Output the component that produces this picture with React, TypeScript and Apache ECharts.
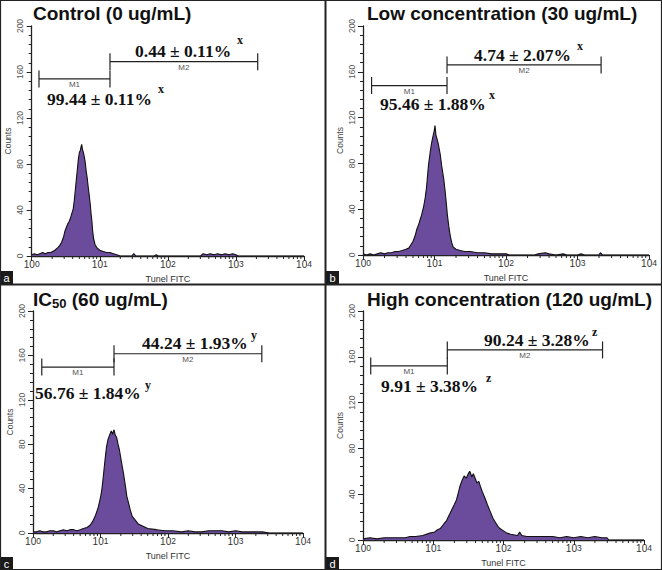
import React, { useEffect, useRef } from 'react';
import * as echarts from 'echarts';

// ---- data ----
const panelTitles = [
  'Control (0 ug/mL)',
  'Low concentration (30 ug/mL)',
  '{t|IC}{s|50}{t| (60 ug/mL)}',
  'High concentration (120 ug/mL)',
];
const panelLetters = ['a', 'b', 'c', 'd'];
const xDecades = [0, 1, 2, 3];
const yMax = 200;
const yInterval = 40;

// [log10(Tunel FITC), counts]
const controlHist = [
  [0, 1], [0.04, 2], [0.08, 1], [0.12, 2], [0.16, 3], [0.2, 2], [0.24, 3], [0.28, 3], [0.31, 4], [0.34, 5],
  [0.38, 7], [0.41, 9], [0.44, 12], [0.47, 17], [0.49, 22], [0.51, 25], [0.53, 28], [0.55, 30], [0.57, 33],
  [0.59, 37], [0.61, 41], [0.625, 48], [0.64, 57], [0.655, 66], [0.67, 75], [0.685, 84], [0.7, 90], [0.715, 92],
  [0.725, 95], [0.735, 97], [0.745, 93], [0.755, 91], [0.77, 87], [0.785, 82], [0.8, 74], [0.815, 68],
  [0.83, 60], [0.845, 53], [0.86, 45], [0.872, 37], [0.885, 30], [0.895, 22], [0.91, 15], [0.93, 10],
  [0.96, 7], [1.0, 5], [1.05, 4], [1.1, 3], [1.15, 3], [1.2, 2], [1.25, 1], [1.3, 0], [1.47, 0], [1.5, 2],
  [1.53, 0], [1.8, 0], [1.83, 1], [1.86, 0], [2.48, 0], [2.52, 2], [2.57, 1], [2.62, 2], [2.68, 1],
  [2.73, 2], [2.79, 1], [2.84, 2], [2.9, 1], [2.95, 2], [3.0, 1], [3.03, 0], [4, 0],
];
const lowHist = [
  [0, 1], [0.05, 0], [0.1, 1], [0.15, 0], [0.2, 1], [0.25, 2], [0.3, 1], [0.35, 2], [0.4, 2], [0.45, 3],
  [0.5, 3], [0.55, 4], [0.6, 5], [0.64, 6], [0.67, 9], [0.7, 12], [0.73, 17], [0.75, 22], [0.78, 27],
  [0.8, 31], [0.82, 35], [0.85, 43], [0.87, 50], [0.89, 60], [0.915, 78], [0.94, 90], [0.96, 98],
  [0.98, 104], [0.995, 108], [1.007, 113], [1.02, 105], [1.05, 98], [1.08, 88], [1.1, 78], [1.13, 66],
  [1.15, 55], [1.17, 42], [1.18, 35], [1.2, 25], [1.22, 17], [1.24, 11], [1.26, 7], [1.3, 5], [1.36, 4],
  [1.42, 3], [1.5, 3], [1.6, 2], [1.7, 2], [1.8, 1], [1.9, 1], [2.0, 1], [2.05, 0], [2.4, 0], [2.45, 1],
  [2.55, 2], [2.6, 1], [2.7, 0], [2.8, 1], [2.85, 0], [3.0, 0], [3.05, 1], [3.1, 0], [3.3, 0], [3.32, 2],
  [3.35, 0], [4, 0],
];
const ic50Hist = [
  [0, 1], [0.05, 1], [0.1, 2], [0.15, 1], [0.2, 1], [0.25, 2], [0.3, 2], [0.35, 1], [0.4, 2], [0.45, 3],
  [0.5, 2], [0.55, 3], [0.6, 3], [0.65, 2], [0.7, 3], [0.745, 4], [0.8, 5], [0.845, 7], [0.88, 10],
  [0.92, 15], [0.95, 20], [0.97, 24], [1.0, 32], [1.02, 39], [1.04, 50], [1.067, 66], [1.09, 78],
  [1.11, 84], [1.14, 89], [1.16, 92], [1.18, 89], [1.2, 93], [1.22, 88], [1.24, 86], [1.26, 80],
  [1.28, 75], [1.31, 64], [1.34, 54], [1.37, 42], [1.39, 33], [1.42, 26], [1.44, 21], [1.47, 15],
  [1.51, 12], [1.56, 8], [1.63, 6], [1.7, 4], [1.83, 3], [1.95, 2], [2.07, 2], [2.2, 1], [2.3, 2],
  [2.4, 1], [2.5, 1], [2.6, 2], [2.7, 2], [2.8, 2], [2.9, 1], [3.0, 2], [3.1, 1], [3.2, 1], [3.3, 1],
  [3.4, 1], [3.5, 0], [4, 0],
];
const highHist = [
  [0, 1], [0.1, 2], [0.2, 1], [0.3, 2], [0.4, 2], [0.5, 2], [0.6, 2], [0.67, 3], [0.75, 3], [0.85, 4],
  [0.95, 6], [1.02, 7], [1.06, 9], [1.1, 10], [1.15, 14], [1.19, 17], [1.22, 21], [1.26, 26], [1.3, 31],
  [1.33, 35], [1.36, 42], [1.38, 47], [1.41, 52], [1.44, 56], [1.47, 54], [1.5, 58], [1.52, 60],
  [1.55, 55], [1.57, 58], [1.59, 55], [1.62, 50], [1.65, 51], [1.67, 47], [1.7, 42], [1.74, 36],
  [1.77, 31], [1.81, 25], [1.85, 19], [1.88, 16], [1.92, 12], [1.95, 10], [2.0, 8], [2.05, 6], [2.1, 5],
  [2.2, 4], [2.23, 7], [2.26, 4], [2.33, 3], [2.5, 3], [2.6, 3], [2.7, 3], [2.8, 2], [2.9, 3], [3.0, 2],
  [3.1, 3], [3.2, 2], [3.3, 3], [3.4, 2], [3.47, 2], [3.5, 0], [4, 0],
];
const histograms = [controlHist, lowHist, ic50Hist, highHist];

// marker gates: [fromLog, toLog, countLevel]
const m1Gates = [[0.107, 1.15, 154], [0.12, 1.175, 148], [0.13, 1.2, 149.5], [0.11, 1.2, 152]];
const m2Gates = [[1.15, 3.32, 169], [1.175, 3.33, 166], [1.2, 3.39, 161.5], [1.2, 3.41, 166]];
const m1Pct = ['99.44 ± 0.11%', '95.46 ± 1.88%', '56.76 ± 1.84%', '9.91 ± 3.38%'];
const m2Pct = ['0.44 ± 0.11%', '4.74 ± 2.07%', '44.24 ± 1.93%', '90.24 ± 3.28%'];
const sigLetters = ['x', 'x', 'y', 'z'];

// ---- layout ----
const grids = [
  { left: 31.7, top: 26, width: 272.3, height: 230 },
  { left: 363, top: 26, width: 286, height: 229 },
  { left: 33, top: 311, width: 270, height: 222 },
  { left: 363, top: 311, width: 281, height: 229 },
];
const titlePos = [[33, 13], [367, 13], [33, 299], [367, 299]];
const m2TextPos = [[135, 51, 237, 40], [474, 55, 577, 46], [142, 343, 251, 335], [484, 340, 592, 332]];
const m1TextPos = [[47, 99, 158, 89], [380, 104, 489, 95], [35, 393, 145, 385], [381, 386, 486, 378]];
const letterPos = [[0, 271], [326, 271], [0, 557], [326, 557]];

const SANS = '"Liberation Sans", Arial, Helvetica, sans-serif';
const SERIF = '"Liberation Serif", "Times New Roman", serif';
const AX = '#222';

export default function App() {
  const ref = useRef<HTMLDivElement>(null);
  useEffect(() => {
    if (!ref.current) return;
    const chart = echarts.init(ref.current, undefined, { renderer: 'svg' });

    const xAxis: any[] = [];
    const yAxis: any[] = [];
    const series: any[] = [];
    const graphic: any[] = [];

    grids.forEach((g, i) => {
      xAxis.push({
        type: 'value', gridIndex: i, min: 0, max: 4, interval: 1,
        axisLine: { lineStyle: { color: AX, width: 1.3 } },
        axisTick: { length: 5, lineStyle: { color: AX } },
        splitLine: { show: false },
        axisLabel: {
          margin: 3,
          formatter: (v: number) => `{b|10}{s|${v}}`,
          rich: {
            b: { fontSize: 10, fontFamily: SANS, color: '#333', verticalAlign: 'bottom', lineHeight: 10 },
            s: { fontSize: 8.5, fontFamily: SANS, color: '#333', verticalAlign: 'top', lineHeight: 8, padding: [0, 0, 5, 0] },
          },
        },
        name: 'Tunel FITC', nameLocation: 'middle', nameGap: 18,
        nameTextStyle: { fontSize: 9, color: '#333', fontFamily: SANS },
      });
      yAxis.push({
        type: 'value', gridIndex: i, min: 0, max: yMax, interval: yInterval,
        axisLine: { show: true, lineStyle: { color: AX, width: 1.3 } },
        axisTick: { show: true, length: 5, lineStyle: { color: AX } },
        minorTick: { show: true, splitNumber: 5, length: 3, lineStyle: { color: AX } },
        splitLine: { show: false },
        axisLabel: { rotate: 90, fontSize: 8.5, color: '#555', fontFamily: SANS, margin: 7 },
        name: 'Counts', nameLocation: 'middle', nameGap: 19, nameRotate: 90,
        nameTextStyle: { fontSize: 8.5, color: '#444', fontFamily: SANS },
      });
      series.push({
        type: 'line', xAxisIndex: i, yAxisIndex: i, data: histograms[i],
        symbol: 'none', showSymbol: false, z: 2,
        lineStyle: { color: '#111', width: 1.1 },
        areaStyle: { color: '#6a4b9c', opacity: 1 },
      });
      const gates = [m1Gates[i], m2Gates[i]];
      series.push({
        type: 'custom', xAxisIndex: i, yAxisIndex: i, clip: false, z: 5,
        data: gates,
        encode: { x: [0, 1], y: 2 },
        renderItem: (params: any, api: any) => {
          const y = api.value(2);
          const a = api.coord([api.value(0), y]);
          const b = api.coord([api.value(1), y]);
          const h = 8.5;
          const st = { stroke: AX, lineWidth: 1.2 };
          return {
            type: 'group',
            children: [
              { type: 'line', shape: { x1: a[0], y1: a[1], x2: b[0], y2: b[1] }, style: st },
              { type: 'line', shape: { x1: a[0], y1: a[1] - h, x2: a[0], y2: a[1] + h }, style: st },
              { type: 'line', shape: { x1: b[0], y1: b[1] - h, x2: b[0], y2: b[1] + h }, style: st },
              {
                type: 'text', x: (a[0] + b[0]) / 2, y: a[1] + 1.5,
                style: { text: params.dataIndex === 0 ? 'M1' : 'M2', fill: '#555', fontSize: 8, lineHeight: 8, fontFamily: SANS, align: 'center', verticalAlign: 'top' },
              },
            ],
          };
        },
      });
      series.push({
        type: 'custom', xAxisIndex: i, yAxisIndex: i, clip: false, z: 5,
        data: xDecades.map((d) => [d]),
        encode: { x: 0 },
        renderItem: (params: any, api: any) => {
          const d = api.value(0);
          const children: any[] = [];
          for (let k = 2; k <= 9; k++) {
            const p = api.coord([d + Math.log10(k), 0]);
            children.push({ type: 'line', shape: { x1: p[0], y1: p[1], x2: p[0], y2: p[1] + 3 }, style: { stroke: AX, lineWidth: 1 } });
          }
          return { type: 'group', children };
        },
      });

      // titles
      graphic.push({
        type: 'text', x: titlePos[i][0], y: titlePos[i][1],
        style: {
          text: panelTitles[i], fill: '#111', font: `bold 19px ${SANS}`, verticalAlign: 'middle',
          rich: {
            t: { fontSize: 19, fontWeight: 'bold', fontFamily: SANS, fill: '#111', verticalAlign: 'bottom', lineHeight: 20 },
            s: { fontSize: 13, fontWeight: 'bold', fontFamily: SANS, fill: '#111', verticalAlign: 'bottom', lineHeight: 14, padding: [0, 0, -1, 0] },
          },
        },
      });
      // percentages
      const pairs: [string, number[]][] = [[m2Pct[i], m2TextPos[i]], [m1Pct[i], m1TextPos[i]]];
      pairs.forEach(([txt, pos]) => {
        graphic.push({
          type: 'text', x: pos[0], y: pos[1],
          style: { text: txt, fill: '#111', font: `bold 17.5px ${SERIF}`, lineHeight: 16, verticalAlign: 'middle' },
        });
        graphic.push({
          type: 'text', x: pos[2], y: pos[3],
          style: { text: sigLetters[i], fill: '#111', font: `bold 12px ${SERIF}`, lineHeight: 11, verticalAlign: 'middle' },
        });
      });
      // panel letters
      graphic.push({
        type: 'rect', shape: { x: letterPos[i][0], y: letterPos[i][1], width: 13, height: 13 },
        style: { fill: '#1a1a1a' },
      });
      graphic.push({
        type: 'text', x: letterPos[i][0] + 6.5, y: letterPos[i][1] + 6.5,
        style: { text: panelLetters[i], fill: '#fff', font: `11px ${SANS}`, align: 'center', verticalAlign: 'middle' },
      });
    });

    // frame
    graphic.push({ type: 'rect', shape: { x: 0.5, y: 0.5, width: 661, height: 569 }, style: { fill: 'none', stroke: '#222', lineWidth: 1.2 } });
    graphic.push({ type: 'line', shape: { x1: 0, y1: 284.5, x2: 662, y2: 284.5 }, style: { stroke: '#222', lineWidth: 2 } });
    graphic.push({ type: 'line', shape: { x1: 325.5, y1: 0, x2: 325.5, y2: 570 }, style: { stroke: '#222', lineWidth: 2 } });

    chart.setOption({
      animation: false,
      backgroundColor: '#fff',
      grid: grids.map((g) => ({ ...g, containLabel: false })),
      xAxis,
      yAxis,
      series,
      graphic: { elements: graphic },
    });
    return () => chart.dispose();
  }, []);

  return (
    <div
      ref={ref}
      style={{ position: 'absolute', left: 0, top: 0, width: 662, height: 570, background: '#fff' }}
    />
  );
}
